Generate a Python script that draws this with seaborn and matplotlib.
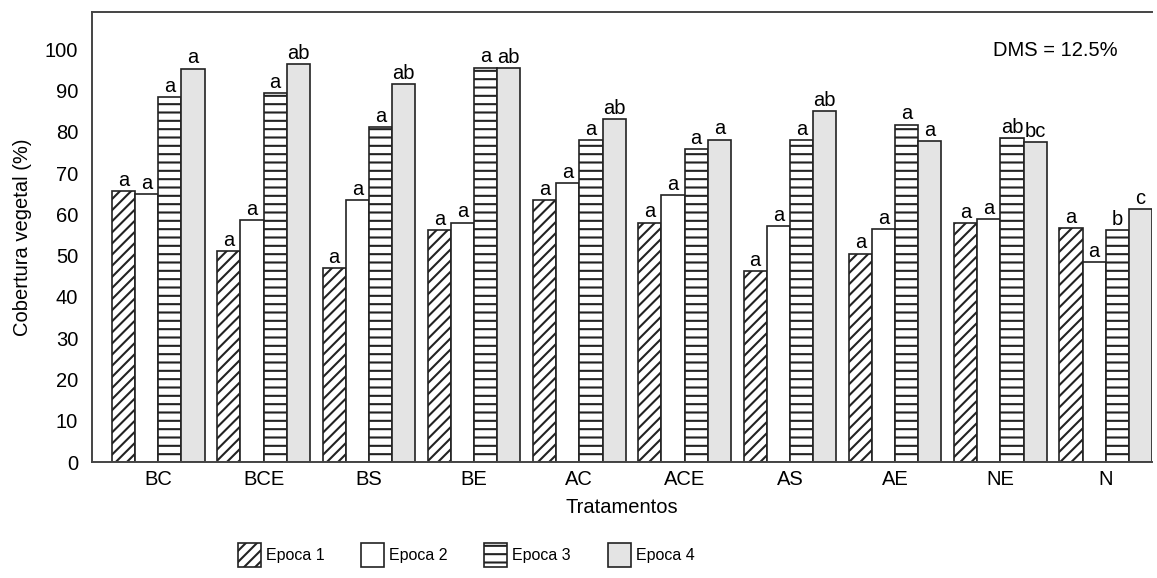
import matplotlib
matplotlib.use("Agg")
import matplotlib.pyplot as plt
import seaborn as sns
import pandas as pd

# datos
tratamentos = ['BC', 'BCE', 'BS', 'BE', 'AC', 'ACE', 'AS', 'AE', 'NE', 'N']
epocas = ['Epoca 1', 'Epoca 2', 'Epoca 3', 'Epoca 4']
epoca1 = [65.7, 51.1, 46.9, 56.2, 63.5, 58.0, 46.2, 50.5, 57.8, 56.6]
epoca2 = [64.9, 58.6, 63.4, 58.0, 67.6, 64.6, 57.2, 56.4, 58.8, 48.4]
epoca3 = [88.4, 89.4, 81.1, 95.5, 78.0, 75.7, 78.0, 81.7, 78.5, 56.2]
epoca4 = [95.3, 96.3, 91.6, 95.4, 83.0, 78.1, 85.0, 77.8, 77.4, 61.3]
letras1 = ['a'] * 10
letras2 = ['a'] * 10
letras3 = ['a', 'a', 'a', 'a', 'a', 'a', 'a', 'a', 'ab', 'b']
letras4 = ['a', 'ab', 'ab', 'ab', 'ab', 'a', 'ab', 'a', 'bc', 'c']

df = pd.DataFrame({
    'Tratamento': tratamentos * 4,
    'Epoca': sum([[e] * len(tratamentos) for e in epocas], []),
    'Cobertura': epoca1 + epoca2 + epoca3 + epoca4,
})

sns.set_theme(style='white')
plt.rcParams['font.family'] = ['Liberation Sans', 'DejaVu Sans']
plt.rcParams['hatch.linewidth'] = 1.5
plt.rcParams['hatch.color'] = 'black'
for k in ['text.color', 'axes.labelcolor', 'xtick.color', 'ytick.color']:
    plt.rcParams[k] = 'black'

fs = 14.5

fig = plt.figure(figsize=(11.57, 5.78), dpi=100)
ax = fig.add_axes([92 / 1157, 1 - 462 / 578, 1060 / 1157, 450 / 578])

sns.barplot(data=df, x='Tratamento', y='Cobertura', hue='Epoca',
            palette=['white', 'white', 'white', '#e4e4e4'], saturation=1,
            edgecolor='#222222', linewidth=1.2, width=0.88, errorbar=None,
            legend=False, ax=ax)

hatches = ['///', '', '--', '']
letras = [letras1, letras2, letras3, letras4]
for cont, h, lts in zip(ax.containers, hatches, letras):
    for bar, lt in zip(cont, lts):
        bar.set_hatch(h)
        ax.text(bar.get_x() + bar.get_width() / 2, bar.get_height() + 0.3, lt,
                ha='center', va='bottom', fontsize=fs)

ax.set_xlim(-0.63, 9.44)
ax.set_ylim(0, 109)
ax.set_yticks(range(0, 101, 10))
ax.tick_params(axis='y', direction='in', length=8, width=1.2, color='#444444',
               labelsize=fs, pad=10)
ax.tick_params(axis='x', length=0, labelsize=fs, pad=6)
for s in ['left', 'bottom', 'top']:
    ax.spines[s].set_color('#444444')
    ax.spines[s].set_linewidth(1.4)
ax.spines['right'].set_visible(False)

ax.set_xlabel('Tratamentos', fontsize=fs, labelpad=6)
ax.set_ylabel('Cobertura vegetal (%)', fontsize=fs, labelpad=9)

ax.text(0.968, 0.915, 'DMS = 12.5%', transform=ax.transAxes, ha='right',
        va='center', fontsize=fs)

fig.legend(handles=ax.containers, labels=epocas, loc='center',
           bbox_to_anchor=(466 / 1157, 1 - 555 / 578), ncol=4, frameon=False,
           fontsize=11.5, handlelength=1.45, handleheight=1.9,
           columnspacing=2.3, handletextpad=0.3)

fig.savefig('out.png', dpi=100)
